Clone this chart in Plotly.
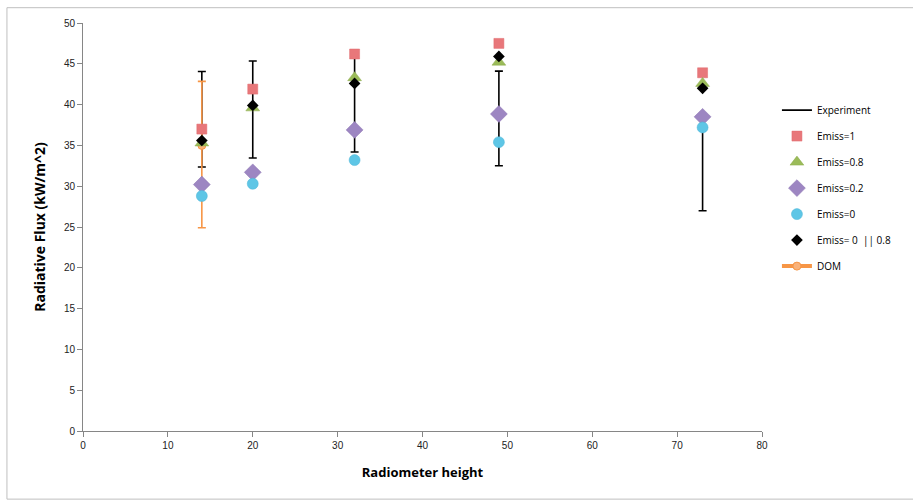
import plotly.graph_objects as go

heights = [14, 20, 32, 49, 73]
experiment = [38.2, 39.4, 40.1, 38.3, 32.9]
experiment_err = [5.85, 5.95, 5.9, 5.8, 5.9]
emiss_1 = [37.0, 41.9, 46.2, 47.5, 43.9]
emiss_08 = [35.3, 39.6, 43.3, 45.2, 42.6]
emiss_02 = [30.2, 31.7, 36.9, 38.85, 38.5]
emiss_0 = [28.8, 30.3, 33.2, 35.4, 37.2]
emiss_0_08 = [35.6, 39.9, 42.6, 45.9, 42.0]
dom_x = [14]
dom_y = [35.0]
dom_err_plus = [7.85]
dom_err_minus = [10.1]

def gap(vals):
    out = []
    for i, v in enumerate(vals):
        if i:
            out.append(None)
        out.append(v)
    return out

fig = go.Figure()

fig.add_trace(go.Scatter(
    x=gap(heights), y=gap(experiment), name="Experiment", mode="lines",
    line=dict(color="black", width=1.6), connectgaps=False, legendrank=1,
    error_y=dict(type="data", array=gap(experiment_err), color="black",
                 thickness=1.6, width=4)))

fig.add_trace(go.Scatter(
    x=dom_x, y=dom_y, name="DOM", mode="lines+markers", legendrank=7,
    line=dict(color="#F79646", width=4),
    marker=dict(symbol="circle", size=8, color="#F9B27A",
                line=dict(color="#F79646", width=1)),
    error_y=dict(type="data", symmetric=False, array=dom_err_plus,
                 arrayminus=dom_err_minus, color="#F79646",
                 thickness=1.6, width=4)))

fig.add_trace(go.Scatter(
    x=heights, y=emiss_1, name="Emiss=1", mode="markers", legendrank=2,
    marker=dict(symbol="square", size=10, color="#E8777A",
                line=dict(color="#E06A6E", width=0.5))))
fig.add_trace(go.Scatter(
    x=heights, y=emiss_08, name="Emiss=0.8", mode="markers", legendrank=3,
    marker=dict(symbol="triangle-up", size=12, color="#9BBB59",
                line=dict(color="#8AAA4A", width=0.5))))
fig.add_trace(go.Scatter(
    x=heights, y=emiss_02, name="Emiss=0.2", mode="markers", legendrank=4,
    marker=dict(symbol="diamond", size=13, color="#9D86C2",
                line=dict(color="#8A72B0", width=0.5))))
fig.add_trace(go.Scatter(
    x=heights, y=emiss_0, name="Emiss=0", mode="markers", legendrank=5,
    marker=dict(symbol="circle", size=11, color="#5EC6E6",
                line=dict(color="#4BB5D6", width=0.5))))
fig.add_trace(go.Scatter(
    x=heights, y=emiss_0_08, name="Emiss= 0  || 0.8", mode="markers", legendrank=6,
    marker=dict(symbol="diamond", size=9, color="black")))

for i, tr in enumerate(fig.data):
    tr.legendgroup = "g%d" % i

axis_common = dict(
    showgrid=False, zeroline=False, showline=True, linecolor="#868686",
    linewidth=1, ticks="outside", ticklen=5, tickcolor="#868686",
    tickfont=dict(family="Liberation Sans, Arial", size=10, color="#222"),
)

fig.update_layout(
    width=913, height=500,
    margin=dict(l=83, r=151, t=23, b=69),
    paper_bgcolor="white", plot_bgcolor="white",
    font=dict(family="Liberation Sans, Arial", size=10, color="black"),
    xaxis=dict(range=[0, 80], dtick=10, **axis_common,
               title=dict(text="<b>Radiometer height</b>",
                          font=dict(family="Open Sans, Arial", size=13),
                          standoff=17)),
    yaxis=dict(range=[0, 50], dtick=5, **axis_common,
               title=dict(text="<b>Radiative Flux (kW/m^2)</b>",
                          font=dict(family="Open Sans, Arial", size=14),
                          standoff=14)),
    legend=dict(x=1.022, xanchor="left", y=0.822, yanchor="top",
                font=dict(family="Open Sans, Arial", size=10),
                itemsizing="trace",
                tracegroupgap=7, traceorder="grouped", bgcolor="rgba(0,0,0,0)"),
    shapes=[dict(type="rect", xref="paper", yref="paper",
                 x0=-0.112, x1=1.4, y0=-0.167, y1=1.0375,
                 line=dict(color="#BFBFBF", width=1), layer="below")],
)

fig.write_html("out.html")
